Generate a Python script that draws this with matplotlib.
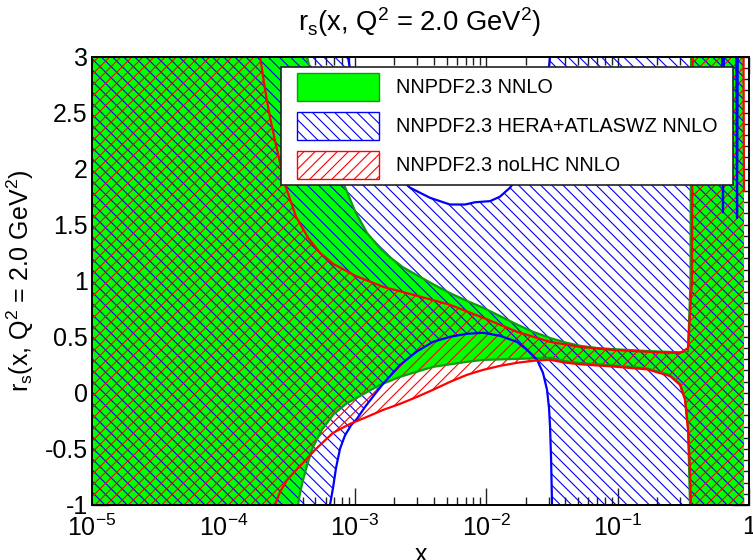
import numpy as np
import matplotlib
matplotlib.use('Agg')
import matplotlib.pyplot as plt
from matplotlib.patches import Patch
from matplotlib.path import Path
from matplotlib.ticker import MultipleLocator, NullFormatter, LogLocator

plt.rcParams['font.family'] = 'Liberation Sans'
plt.rcParams['mathtext.fontset'] = 'custom'
plt.rcParams['mathtext.rm'] = 'Liberation Sans'
plt.rcParams['mathtext.it'] = 'Liberation Sans'
plt.rcParams['mathtext.bf'] = 'Liberation Sans:bold'
plt.rcParams['axes.unicode_minus'] = False
plt.rcParams['hatch.linewidth'] = 0.8

# NNPDF2.3 NNLO (log10 x, r_s)
lx_g_up = [-5.0, -4.0, -3.5, -3.364, -3.303, -3.227, -3.151, -3.09, -2.998, -2.907,
           -2.808, -2.732, -2.633, -2.527, -2.405, -2.276, -2.146, -2.024, -1.895, -1.766,
           -1.644, -1.514, -1.400, -1.286, -1.157, -1.035, -0.753, -0.525, -0.464, -0.445,
           -0.438, -0.038]
g_up = [8.0, 6.0, 3.6, 3.0, 2.70, 2.37, 2.09, 1.88, 1.62, 1.427,
        1.29, 1.21, 1.12, 1.05, 0.97, 0.89, 0.82, 0.76, 0.685, 0.61,
        0.545, 0.49, 0.45, 0.42, 0.40, 0.39, 0.372, 0.362, 0.37, 1.0,
        4.0, 4.0]
lx_g_lo = [-5.0, -3.5, -3.432, -3.417, -3.394, -3.356, -3.318, -3.250, -3.166, -3.067,
           -2.960, -2.808, -2.656, -2.405, -2.146, -2.024, -1.766, -1.514, -1.400, -1.286,
           -1.035, -0.776, -0.601, -0.525, -0.487, -0.464, -0.449, -0.44, -0.038]
g_lo = [-2.0, -1.5, -1.0, -0.893, -0.777, -0.616, -0.482, -0.330, -0.196, -0.098,
        -0.027, 0.071, 0.143, 0.232, 0.277, 0.294, 0.303, 0.312, 0.282, 0.265,
        0.245, 0.218, 0.158, 0.08, -0.05, -0.3, -1.0, -2.0, -2.0]

# NNPDF2.3 HERA+ATLASWZ NNLO
lx_b_up = [-5.0, -3.2, -3.052, -2.998, -2.922, -2.808, -2.694, -2.580, -2.428, -2.276,
           -2.161, -2.085, -1.971, -1.895, -1.819, -1.743, -1.667, -1.591, -1.545, -1.514,
           -1.47, -0.21, -0.198, -0.186, -0.10, -0.091, -0.082, -0.038]
b_up = [8.0, 4.0, 3.0, 2.6, 2.3, 2.08, 1.95, 1.83, 1.74, 1.68,
        1.68, 1.70, 1.71, 1.75, 1.83, 1.95, 2.12, 2.38, 2.65, 3.0,
        4.0, 4.0, 1.61, 4.0, 4.0, 1.56, 4.0, 4.0]
lx_b_lo = [-5.0, -3.25, -3.189, -3.166, -3.143, -3.113, -3.075, -3.029, -2.983, -2.922,
           -2.853, -2.785, -2.656, -2.527, -2.405, -2.276, -2.146, -2.024, -1.895, -1.766,
           -1.690, -1.613, -1.568, -1.537, -1.522, -1.514, -1.506, -1.499, -1.48, -0.038]
b_lo = [-2.0, -1.6, -1.0, -0.85, -0.67, -0.50, -0.38, -0.29, -0.23, -0.125,
        -0.02, 0.08, 0.25, 0.37, 0.455, 0.50, 0.527, 0.536, 0.509, 0.455,
        0.384, 0.295, 0.179, 0.027, -0.134, -0.304, -0.598, -1.0, -1.6, -1.6]

# NNPDF2.3 noLHC NNLO
lx_r_up = [-5.0, -4.0, -3.8, -3.721, -3.683, -3.645, -3.592, -3.531, -3.447, -3.356,
           -3.265, -3.166, -2.998, -2.785, -2.527, -2.276, -2.024, -1.766, -1.514, -1.286,
           -1.035, -0.753, -0.525, -0.464, -0.434, -0.426, -0.045, -0.038]
r_up = [10.0, 5.0, 3.6, 3.0, 2.705, 2.455, 2.17, 1.857, 1.571, 1.384,
        1.25, 1.152, 1.045, 0.946, 0.866, 0.786, 0.67, 0.545, 0.455, 0.41,
        0.383, 0.365, 0.355, 0.40, 1.0, 4.0, 4.0, 1.8]
lx_r_lo = [-5.0, -3.7, -3.607, -3.569, -3.516, -3.417, -3.288, -3.166, -3.037, -2.907,
           -2.785, -2.656, -2.527, -2.405, -2.276, -2.146, -2.024, -1.895, -1.766, -1.644,
           -1.514, -1.400, -1.286, -1.035, -0.776, -0.601, -0.525, -0.487, -0.464, -0.449,
           -0.441, -0.43, -0.038]
r_lo = [-2.0, -1.6, -1.0, -0.884, -0.777, -0.652, -0.491, -0.357, -0.277, -0.214,
        -0.152, -0.098, -0.036, 0.027, 0.098, 0.161, 0.205, 0.241, 0.268, 0.286,
        0.295, 0.27, 0.255, 0.235, 0.21, 0.15, 0.071, -0.062, -0.33, -0.687,
        -1.0, -2.0, -2.0]

labels = ['NNPDF2.3 NNLO', 'NNPDF2.3 HERA+ATLASWZ NNLO', 'NNPDF2.3 noLHC NNLO']
xtick_vals = [1e-5, 1e-4, 1e-3, 1e-2, 1e-1, 1]
xtick_labels = ['$10^{-5}$', '$10^{-4}$', '$10^{-3}$', '$10^{-2}$', '$10^{-1}$', '1']
ytick_vals = [-1, -0.5, 0, 0.5, 1, 1.5, 2, 2.5, 3]
ytick_labels = ['-1', '-0.5', '0', '0.5', '1', '1.5', '2', '2.5', '3']

green, dgreen, blue, red = '#00ff00', '#109a10', '#0000ff', '#ff0000'


def band(lx_up, up, lx_lo, lo):
    xs = np.concatenate([lx_up, lx_lo[::-1]])
    ys = np.concatenate([up, lo[::-1]])
    return 10 ** xs, ys


def wide_box(x0, y0, width, height, mutation_size):
    # legend frame with extra room left and right only
    dx = 0.5 * mutation_size
    verts = [(x0 - dx, y0), (x0 + width + dx, y0), (x0 + width + dx, y0 + height),
             (x0 - dx, y0 + height), (x0 - dx, y0)]
    return Path(verts, closed=True)


fig = plt.figure(figsize=(7.53, 5.6), dpi=100)
ax = fig.add_axes([92 / 753, 55 / 560, 657 / 753, 448.5 / 560])

x, y = band(lx_g_up, g_up, lx_g_lo, g_lo)
ax.fill(x, y, facecolor=green, linewidth=0, zorder=1.0)
x, y = band(lx_b_up, b_up, lx_b_lo, b_lo)
ax.fill(x, y, facecolor='none', edgecolor=blue, hatch='\\\\\\', linewidth=0, zorder=1.1)
x, y = band(lx_r_up, r_up, lx_r_lo, r_lo)
ax.fill(x, y, facecolor='none', edgecolor=red, hatch='///', linewidth=0, zorder=1.2)

lw = 1.6
for lx, v in [(lx_g_up, g_up), (lx_g_lo, g_lo)]:
    ax.plot(10 ** np.array(lx), v, color=dgreen, lw=lw, zorder=2.0)
for lx, v in [(lx_b_up, b_up), (lx_b_lo, b_lo)]:
    ax.plot(10 ** np.array(lx), v, color=blue, lw=lw, zorder=2.1)
for lx, v in [(lx_r_up, r_up), (lx_r_lo, r_lo)]:
    ax.plot(10 ** np.array(lx), v, color=red, lw=lw, zorder=2.2)

ax.set_xscale('log')
ax.set_xlim(1e-5, 1)
ax.set_ylim(-1, 3)
ax.set_xticks(xtick_vals)
ax.set_xticklabels(xtick_labels)
ax.xaxis.set_minor_locator(LogLocator(base=10, subs=np.arange(2, 10)))
ax.xaxis.set_minor_formatter(NullFormatter())
ax.set_yticks(ytick_vals)
ax.set_yticklabels(ytick_labels)
ax.yaxis.set_minor_locator(MultipleLocator(0.1))
ax.set_axisbelow(True)
ax.tick_params(which='both', direction='in', top=True, right=True, width=1, color='#222222')
ax.tick_params(which='major', length=12, labelsize=18)
ax.tick_params(which='minor', length=6)
ax.tick_params(axis='x', which='major', pad=7)
ax.tick_params(axis='y', which='major', pad=3)
for s in ax.spines.values():
    s.set_linewidth(1.4)
    s.set_zorder(3)

ax.set_xlabel('x', fontsize=18)
ax.xaxis.set_label_coords(0.5, -0.085)
ax.set_ylabel('$r_s$(x, Q$^2$ = 2.0 GeV$^2$)', fontsize=18)
ax.yaxis.set_label_coords(-0.085, 0.5)
fig.text(420 / 753, 1 - 22 / 560, '$r_s$(x, Q$^2$ = 2.0 GeV$^2$)',
         ha='center', va='center', fontsize=19.7)

handles = [Patch(facecolor=green, edgecolor=dgreen, linewidth=1.0),
           Patch(facecolor='white', edgecolor=blue, hatch='\\\\\\', linewidth=1.0),
           Patch(facecolor='white', edgecolor=red, hatch='///', linewidth=1.0)]
leg = ax.legend(handles, labels, loc='upper right', bbox_to_anchor=(723 / 657 - 92 / 657, 0.977),
                borderaxespad=0, fontsize=14.3, handlelength=4.1, handleheight=1.79,
                handletextpad=0.85, labelspacing=0.55, borderpad=0.3,
                fancybox=False, framealpha=1)
leg.get_frame().set_boxstyle(wide_box)
leg.get_frame().set_edgecolor('#222222')
leg.get_frame().set_linewidth(1.2)
leg.set_zorder(5)

fig.savefig('out.png', dpi=100)
